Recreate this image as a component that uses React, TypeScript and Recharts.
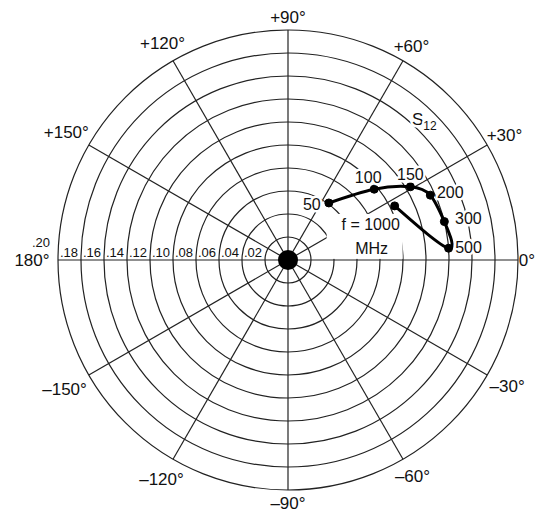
import {
  ComposedChart,
  Line,
  XAxis,
  YAxis,
  ReferenceArea,
  ReferenceLine,
  ReferenceDot,
  LabelList,
} from "recharts";

// S12 vs frequency (MHz): magnitude and angle (degrees)
const FREQ = [50, 100, 150, 200, 300, 500, 1000];
const MAG = [0.061, 0.097, 0.124, 0.136, 0.14, 0.14, 0.104];
const ANG = [54.4, 39.4, 30.9, 24.5, 13.8, 4.2, 26.9];

const RINGS = [0.02, 0.04, 0.06, 0.08, 0.1, 0.12, 0.14, 0.16, 0.18, 0.2];
const RING_LABELS = [".02", ".04", ".06", ".08", ".10", ".12", ".14", ".16", ".18", ".20"];
const SPOKES = [0, 30, 60, 90, 120, 150, 180, 210, 240, 270, 300, 330];
const ANGLE_TICKS = [0, 30, 60, 90, 120, 150, 180, -150, -120, -90, -60, -30];
const ANGLE_LABELS = ["0°", "+30°", "+60°", "+90°", "+120°", "+150°", "180°", "–150°", "–120°", "–90°", "–60°", "–30°"];

// layout only: label distance outside the outer ring (px)
const ANGLE_PAD = [9, 20, 17, 13, 21, 26, 26, 28, 23, 13, 19, 23];
// layout only: label offsets from each point (px)
const FREQ_OFFSET: Record<number, [number, number]> = {
  50: [-17, 1],
  100: [-6, -12],
  150: [0, -12],
  200: [20, -3],
  300: [24, -3],
  500: [20, -1],
};

const FONT = "'Liberation Sans', Arial, Helvetica, sans-serif";
const GRID = "#222";
const MAX = 0.2;

const rad = (d: number) => (d * Math.PI) / 180;
const DATA = FREQ.map((f, i) => ({
  f,
  x: MAG[i] * Math.cos(rad(ANG[i])),
  y: MAG[i] * Math.sin(rad(ANG[i])),
}));

const halo = {
  stroke: "#fff",
  strokeWidth: 5,
  strokeLinejoin: "round" as const,
  paintOrder: "stroke" as const,
};

const RingShape = (p: any) => (
  <ellipse
    cx={p.x + p.width / 2}
    cy={p.y + p.height / 2}
    rx={Math.abs(p.width) / 2}
    ry={Math.abs(p.height) / 2}
    fill="none"
    stroke={GRID}
    strokeWidth={1.2}
  />
);

const FreqLabel = (p: any) => {
  const off = FREQ_OFFSET[p.value as number];
  if (!off) return null;
  return (
    <text
      x={p.x + off[0]}
      y={p.y + off[1]}
      dy="0.35em"
      textAnchor="middle"
      fontSize={16}
      fontFamily={FONT}
      fill="#111"
      {...halo}
    >
      {p.value}
    </text>
  );
};

export default function App() {
  const last = DATA[DATA.length - 1];
  return (
    <div style={{ width: 535, height: 506, fontFamily: FONT }}>
      <ComposedChart
        width={535}
        height={506}
        data={DATA}
        margin={{ top: 22, right: 25, bottom: 24, left: 50 }}
      >
        <XAxis type="number" dataKey="x" domain={[-MAX, MAX]} hide allowDataOverflow />
        <YAxis type="number" domain={[-MAX, MAX]} hide allowDataOverflow />

        {RINGS.map((r) => (
          <ReferenceArea
            key={"ring" + r}
            x1={-r}
            x2={r}
            y1={-r}
            y2={r}
            ifOverflow="visible"
            shape={RingShape}
          />
        ))}

        {SPOKES.map((a) => (
          <ReferenceLine
            key={"spoke" + a}
            segment={[
              { x: 0, y: 0 },
              { x: MAX * Math.cos(rad(a)), y: MAX * Math.sin(rad(a)) },
            ]}
            stroke={GRID}
            strokeWidth={1.2}
            ifOverflow="visible"
          />
        ))}

        <ReferenceDot x={0} y={0} r={10} fill="#000" stroke="none" ifOverflow="visible" />

        {RINGS.map((r, i) => (
          <ReferenceDot
            key={"rl" + r}
            x={-r}
            y={0}
            ifOverflow="visible"
            shape={(p: any) => {
              const outer = i === RINGS.length - 1;
              return (
                <text
                  x={p.cx - (outer ? 8 : 3)}
                  y={p.cy - (outer ? 13 : 3)}
                  textAnchor="end"
                  fontSize={13}
                  fontFamily={FONT}
                  fill="#111"
                >
                  {RING_LABELS[i]}
                </text>
              );
            }}
          />
        ))}

        {ANGLE_TICKS.map((a, i) => (
          <ReferenceDot
            key={"al" + a}
            x={MAX * Math.cos(rad(a))}
            y={MAX * Math.sin(rad(a))}
            ifOverflow="visible"
            shape={(p: any) => (
              <text
                x={p.cx + ANGLE_PAD[i] * Math.cos(rad(a))}
                y={p.cy - ANGLE_PAD[i] * Math.sin(rad(a))}
                dy="0.35em"
                textAnchor="middle"
                fontSize={17}
                fontFamily={FONT}
                fill="#111"
              >
                {ANGLE_LABELS[i]}
              </text>
            )}
          />
        ))}

        <ReferenceDot
          x={0.166 * Math.cos(rad(47.5))}
          y={0.166 * Math.sin(rad(47.5))}
          ifOverflow="visible"
          shape={(p: any) => (
            <text x={p.cx - 5} y={p.cy + 6} fontSize={17} fontFamily={FONT} fill="#111" {...halo}>
              S
              <tspan fontSize={12} dy={5}>
                12
              </tspan>
            </text>
          )}
        />

        <ReferenceDot
          x={last.x}
          y={last.y}
          ifOverflow="visible"
          shape={(p: any) => (
            <g>
              <rect x={p.cx - 68} y={p.cy + 8} width={76} height={45} fill="#fff" />
              <text
                x={p.cx - 24}
                y={p.cy + 19}
                dy="0.35em"
                textAnchor="middle"
                fontSize={16}
                fontFamily={FONT}
                fill="#111"
              >
                f = 1000
              </text>
              <text
                x={p.cx - 23}
                y={p.cy + 43}
                dy="0.35em"
                textAnchor="middle"
                fontSize={16}
                fontFamily={FONT}
                fill="#111"
              >
                MHz
              </text>
            </g>
          )}
        />

        <Line
          type="natural"
          dataKey="y"
          stroke="#000"
          strokeWidth={3}
          dot={{ r: 4, fill: "#000", stroke: "#000", strokeWidth: 1 }}
          activeDot={false}
          isAnimationActive={false}
          zIndex={1500}
        >
          <LabelList dataKey="f" content={FreqLabel} />
        </Line>
      </ComposedChart>
    </div>
  );
}
